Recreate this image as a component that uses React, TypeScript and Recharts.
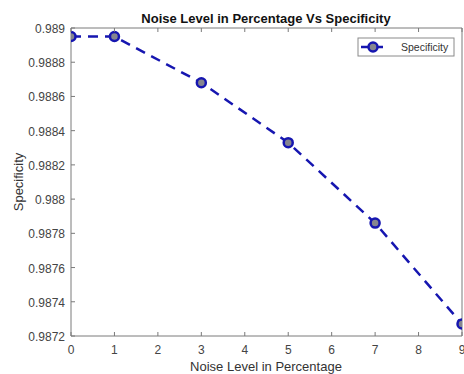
import React from 'react';
import { LineChart, Line, XAxis, YAxis, Customized } from 'recharts';

const noiseLevels = [0, 1, 3, 5, 7, 9];
const specificity = [0.98895, 0.98895, 0.98868, 0.98833, 0.98786, 0.98727];
const xTicks = [0, 1, 2, 3, 4, 5, 6, 7, 8, 9];
const yTicks = [0.9872, 0.9874, 0.9876, 0.9878, 0.988, 0.9882, 0.9884, 0.9886, 0.9888, 0.989];
const yTickLabels = ['0.9872', '0.9874', '0.9876', '0.9878', '0.988', '0.9882', '0.9884', '0.9886', '0.9888', '0.989'];
const title = 'Noise Level in Percentage Vs Specificity';
const xLabel = 'Noise Level in Percentage';
const yLabel = 'Specificity';
const seriesName = 'Specificity';

const data = noiseLevels.map((x, i) => ({ x, y: specificity[i] }));

const AXIS = '#7a7a7a';
const TICKTXT = '#444444';
const BLUE = '#1616b0';
const FILL = '#85858f';
const FONT = '"Liberation Sans", Arial, Helvetica, sans-serif';

const BottomTick = (p: any) => (
  <g>
    <line x1={p.x} x2={p.x} y1={p.y} y2={p.y - 4} stroke={AXIS} strokeWidth={1} />
    <text x={p.x} y={p.y + 18} textAnchor="middle" fontSize={12} fill={TICKTXT} fontFamily={FONT}>
      {p.payload.value}
    </text>
  </g>
);
const TopTick = (p: any) => (
  <line x1={p.x} x2={p.x} y1={p.y} y2={p.y + 4} stroke={AXIS} strokeWidth={1} />
);
const LeftTick = (p: any) => (
  <g>
    <line x1={p.x} x2={p.x + 4} y1={p.y} y2={p.y} stroke={AXIS} strokeWidth={1} />
    <text x={p.x - 6} y={p.y + 5} textAnchor="end" fontSize={12} fill={TICKTXT} fontFamily={FONT}>
      {yTickLabels[p.index]}
    </text>
  </g>
);
const RightTick = (p: any) => (
  <line x1={p.x} x2={p.x - 4} y1={p.y} y2={p.y} stroke={AXIS} strokeWidth={1} />
);

const Decor = () => (
  <g fontFamily={FONT}>
    <text x={266} y={23} textAnchor="middle" fontSize={13} fontWeight="bold" fill="#111">
      {title}
    </text>
    <text x={266} y={371} textAnchor="middle" fontSize={13} fill="#333">
      {xLabel}
    </text>
    <text x={18} y={182} textAnchor="middle" dominantBaseline="central" fontSize={13} fill="#333" transform="rotate(-90 18 182)">
      {yLabel}
    </text>
    <rect x={358} y={38} width={96} height={18} fill="#fff" stroke="#8a8a8a" strokeWidth={1} />
    <line x1={361} x2={384} y1={47} y2={47} stroke={BLUE} strokeWidth={2.5} strokeDasharray="9 4" />
    <circle cx={373} cy={47} r={4.5} fill={FILL} stroke={BLUE} strokeWidth={2.5} />
    <text x={401} y={47} dominantBaseline="central" fontSize={10.5} fill="#333">
      {seriesName}
    </text>
  </g>
);

export default function App() {
  return (
    <div style={{ position: 'absolute', left: 0, top: 0 }}>
      <LineChart width={464} height={374} data={data} margin={{ top: 27, right: 1, bottom: 0, left: 0 }}>
        <XAxis
          dataKey="x"
          type="number"
          domain={[0, 9]}
          ticks={xTicks}
          interval={0}
          height={38}
          tickSize={0}
          tickMargin={0}
          tickLine={false}
          stroke={AXIS}
          tick={<BottomTick />}
          allowDataOverflow
        />
        <XAxis
          xAxisId="top"
          orientation="top"
          dataKey="x"
          type="number"
          domain={[0, 9]}
          ticks={xTicks}
          interval={0}
          height={1}
          tickSize={0}
          tickMargin={0}
          tickLine={false}
          stroke={AXIS}
          tick={<TopTick />}
        />
        <YAxis
          type="number"
          domain={[0.9872, 0.989]}
          ticks={yTicks}
          interval={0}
          width={71}
          tickSize={0}
          tickMargin={0}
          tickLine={false}
          stroke={AXIS}
          tick={<LeftTick />}
          allowDataOverflow
        />
        <YAxis
          yAxisId="right"
          orientation="right"
          type="number"
          domain={[0.9872, 0.989]}
          ticks={yTicks}
          interval={0}
          width={1}
          tickSize={0}
          tickMargin={0}
          tickLine={false}
          stroke={AXIS}
          tick={<RightTick />}
        />
        <Line
          dataKey="y"
          type="linear"
          stroke={BLUE}
          strokeWidth={2.5}
          strokeDasharray="10 7"
          dot={{ r: 4.5, fill: FILL, stroke: BLUE, strokeWidth: 2.5, strokeDasharray: 'none' }}
          isAnimationActive={false}
        />
        <Customized component={Decor} />
      </LineChart>
    </div>
  );
}
